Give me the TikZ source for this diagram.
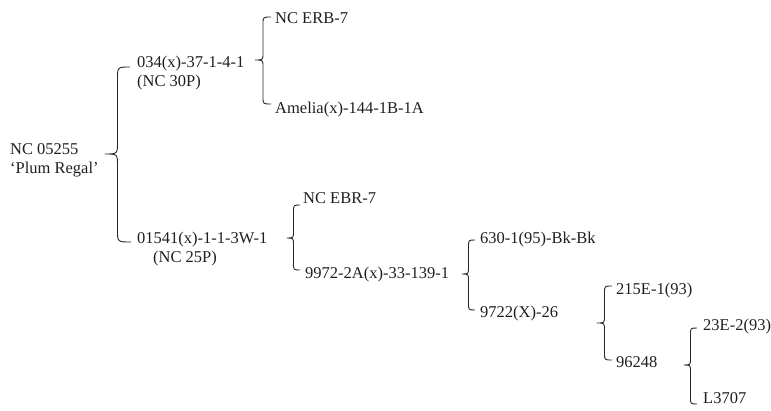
\documentclass[tikz,border=0pt]{standalone}
\usepackage{fontspec}
\setmainfont{Liberation Serif}
\usetikzlibrary{calc}
\tikzset{
  lbl/.style={anchor=base west, inner sep=0pt, text=black!88, font=\fontsize{16.5}{20}\selectfont},
  bracestyle/.style={draw=black!85, line width=0.9pt, line join=round}
}
% #1 tip, #2 top end, #3 bottom end, #4 bend radius
\newcommand\curlybr[4]{%
  \draw[bracestyle] let \p1=(#1), \p2=(#2), \p3=(#3), \n1={0.5*(\x1+\x2)}, \n2={#4} in
    (\p2) .. controls (\n1,\y2) .. (\n1,\y2-\n2) -- (\n1,\y1+\n2)
    .. controls (\n1,\y1) .. (\p1)
    .. controls (\n1,\y1) .. (\n1,\y1-\n2) -- (\n1,\y3+\n2)
    .. controls (\n1,\y3) .. (\p3);}
\begin{document}
\begin{tikzpicture}[x=1pt,y=-1pt]
\useasboundingbox (0,0) rectangle (771,410);
% text nodes (left x, baseline y)
\node[lbl] (rootA) at (10,154) {NC 05255};
\node[lbl] (rootB) at (10,173) {‘Plum Regal’};
\node[lbl] (a1) at (137,67) {034(x)-37-1-4-1};
\node[lbl] (a1b) at (137,86) {(NC 30P)};
\node[lbl] (c1) at (275,23) {NC ERB-7};
\node[lbl] (c2) at (275,113) {Amelia(x)-144-1B-1A};
\node[lbl] (a2) at (137,243) {01541(x)-1-1-3W-1};
\node[lbl] (a2b) at (153,262) {(NC 25P)};
\node[lbl] (d1) at (303,203) {NC EBR-7};
\node[lbl] (d2) at (305,278) {9972-2A(x)-33-139-1};
\node[lbl] (e1) at (480,243) {630-1(95)-Bk-Bk};
\node[lbl] (e2) at (480,317) {9722(X)-26};
\node[lbl] (f1) at (616,294) {215E-1(93)};
\node[lbl] (f2) at (616,367) {96248};
\node[lbl] (g1) at (703,330) {23E-2(93)};
\node[lbl] (g2) at (703,403) {L3707};
% brace end points
\coordinate (t1) at (105,154); \coordinate (u1) at (130,67);  \coordinate (l1) at (131,242);
\coordinate (t2) at (255,60);  \coordinate (u2) at (271,17);  \coordinate (l2) at (271,104);
\coordinate (t3) at (287,238); \coordinate (u3) at (300,205); \coordinate (l3) at (300,270);
\coordinate (t4) at (462,274); \coordinate (u4) at (475,240); \coordinate (l4) at (475,310);
\coordinate (t5) at (597,323); \coordinate (u5) at (612,286); \coordinate (l5) at (612,360);
\coordinate (t6) at (684,365); \coordinate (u6) at (697,328); \coordinate (l6) at (697,404);
\curlybr{t1}{u1}{l1}{12pt}
\curlybr{t2}{u2}{l2}{7pt}
\curlybr{t3}{u3}{l3}{7pt}
\curlybr{t4}{u4}{l4}{7pt}
\curlybr{t5}{u5}{l5}{7pt}
\curlybr{t6}{u6}{l6}{7pt}
\end{tikzpicture}
\end{document}
